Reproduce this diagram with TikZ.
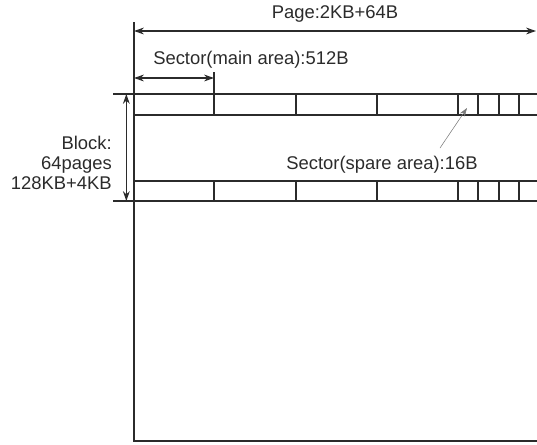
\documentclass[tikz,border=0pt]{standalone}
\usepackage{fontspec}
\setmainfont{Liberation Sans}
\usepackage{xcolor}
\definecolor{cLine}{HTML}{2B2B2B}
\definecolor{cPtr}{HTML}{7A7A7A}
\usetikzlibrary{positioning,arrows.meta}
\tikzset{
  frame-line/.style={draw=cLine,line width=1pt},
  cell-line/.style={draw=cLine,line width=0.9pt},
  dim-arrow/.style={{Stealth[length=2.6mm,width=1.8mm]}-{Stealth[length=2.6mm,width=1.8mm]},
    draw=cLine,line width=0.9pt},
  ptr-arrow/.style={-{Stealth[length=2.2mm,width=1.5mm]},draw=cPtr,line width=0.4pt},
  lbl/.style={font=\fontsize{13.8}{15}\selectfont,text=cLine,inner sep=0pt},
}
\begin{document}
\begin{tikzpicture}[x=0.75pt,y=-0.75pt]
  \useasboundingbox (0,0) rectangle (537,444);
  % page frame
  \coordinate (pg-top) at (134,22);
  \coordinate (pg-bl) at (134,441);
  \coordinate (pg-br) at (537,441);
  \draw[frame-line] (pg-top) -- (pg-bl) -- (pg-br);
  % page size
  \coordinate (pg-l) at (134,31);
  \coordinate (pg-r) at (536,31);
  \draw[dim-arrow] (pg-l) -- node[lbl,above=6pt] (pg-lbl) {Page:2KB+64B} (pg-r);
  % main sector size
  \coordinate (ms-l) at (134,78);
  \coordinate (ms-r) at (214,78);
  \coordinate (ms-tick) at (214,72);
  \draw[cell-line] (ms-tick) -- (214,94);
  \draw[dim-arrow] (ms-l) -- (ms-r);
  \node[lbl,anchor=west] (ms-lbl) at (153,60) {Sector(main area):512B};
  % first and last page of the block
  \foreach \y/\h in {94/21,181/20} {
    \draw[cell-line] (134,\y) -- (537,\y);
    \draw[cell-line] (134,\y+\h) -- (537,\y+\h);
    \foreach \x in {214,296,377,458,478,499,519}
      \draw[cell-line] (\x,\y) -- (\x,\y+\h);
  }
  % block size
  \coordinate (bk-t) at (113,94);
  \coordinate (bk-b) at (113,201);
  \draw[cell-line] (bk-t) -- (134,94);
  \draw[cell-line] (bk-b) -- (134,201);
  \draw[dim-arrow] ([xshift=10]bk-t) -- ([xshift=10]bk-b);
  \node[lbl,anchor=east,align=right] (bk-lbl) at (112,163) {Block:\\64pages\\128KB+4KB};
  % spare sector
  \node[lbl] (ss-lbl) at (382,165) {Sector(spare area):16B};
  \coordinate (ss-from) at (440,148);
  \coordinate (ss-to) at (467,108);
  \draw[ptr-arrow] (ss-from) -- (ss-to);
\end{tikzpicture}
\end{document}
